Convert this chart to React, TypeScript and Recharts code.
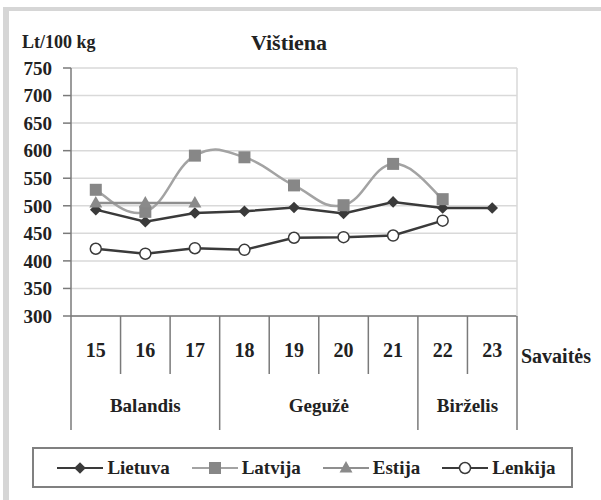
import React from 'react';
import { LineChart, Line, XAxis, YAxis, CartesianGrid, Legend } from 'recharts';

const weeks = ['15', '16', '17', '18', '19', '20', '21', '22', '23'];
const lietuva = [493, 471, 487, 490, 497, 486, 507, 496, 496];
const latvija = [529, 489, 591, 588, 537, 501, 576, 512, null];
const estija = [505, 505, 505, null, null, null, null, null, null];
const lenkija = [422, 413, 423, 420, 442, 443, 446, 473, null];
const months = ['Balandis', 'Gegužė', 'Birželis'];
const monthSpans = [3, 4, 2];
const yTicks = [300, 350, 400, 450, 500, 550, 600, 650, 700, 750];
const seriesNames = ['Lietuva', 'Latvija', 'Estija', 'Lenkija'];

const data = weeks.map((w, i) => ({
  week: w,
  Lietuva: lietuva[i],
  Latvija: latvija[i],
  Estija: estija[i],
  Lenkija: lenkija[i],
}));

const W = 601;
const H = 500;
const M_TOP = 68;
const Y_W = 71;
const M_RIGHT = 83;
const X_H = 184;
const PLOT_W = W - Y_W - M_RIGHT - 1;
const BW = PLOT_W / weeks.length;
const AXIS_Y = H - X_H;
const FONT = '"Liberation Serif", "DejaVu Serif", serif';
const TXT = '#222';
const SEP = '#7a7a7a';
const SMOOTH = 0.21;

// Excel-like smoothing (cardinal spline as cubic Bezier)
function excelSmooth(context: any) {
  let pts: number[][] = [];
  return {
    areaStart() {},
    areaEnd() {},
    lineStart() { pts = []; },
    point(x: number, y: number) { pts.push([+x, +y]); },
    lineEnd() {
      const n = pts.length;
      if (!n) return;
      context.moveTo(pts[0][0], pts[0][1]);
      for (let i = 0; i < n - 1; i++) {
        const p0 = pts[Math.max(i - 1, 0)];
        const p1 = pts[i];
        const p2 = pts[i + 1];
        const p3 = pts[Math.min(i + 2, n - 1)];
        const a = i === 0 ? 1 / 6 : SMOOTH;
        const b = i + 2 > n - 1 ? 1 / 6 : SMOOTH;
        context.bezierCurveTo(
          p1[0] + (p2[0] - p0[0]) * a, p1[1] + (p2[1] - p0[1]) * a,
          p2[0] - (p3[0] - p1[0]) * b, p2[1] - (p3[1] - p1[1]) * b,
          p2[0], p2[1]
        );
      }
    },
  };
}

const monthStart: Record<number, number> = {};
{
  let s = 0;
  monthSpans.forEach((n, m) => { monthStart[s] = m; s += n; });
}

const XTick = (props: any) => {
  const { x, index, payload } = props;
  const left = x - BW / 2;
  const isMonth = monthStart[index] !== undefined;
  const last = index === weeks.length - 1;
  return (
    <g>
      <line x1={left} x2={left} y1={AXIS_Y} y2={isMonth ? 430 : 374} stroke={SEP} strokeWidth={1.5} />
      {last && <line x1={left + BW} x2={left + BW} y1={AXIS_Y} y2={430} stroke={SEP} strokeWidth={1.5} />}
      <text x={x} y={357} textAnchor="middle" fontFamily={FONT} fontWeight="bold" fontSize={20} fill={TXT}>
        {payload.value}
      </text>
      {isMonth && (
        <text x={left + (monthSpans[monthStart[index]] * BW) / 2} y={412} textAnchor="middle" fontFamily={FONT} fontWeight="bold" fontSize={19} fill={TXT}>
          {months[monthStart[index]]}
        </text>
      )}
      {last && (
        <text x={left + BW + 4} y={363} textAnchor="start" fontFamily={FONT} fontWeight="bold" fontSize={20} fill={TXT}>
          Savaitės
        </text>
      )}
    </g>
  );
};

const Diamond = (props: any) => {
  const { cx, cy } = props;
  if (cx == null || cy == null) return null;
  const r = 5.8;
  return <path d={`M${cx},${cy - r}L${cx + r},${cy}L${cx},${cy + r}L${cx - r},${cy}Z`} fill="#3a3a3a" />;
};
const Square = (props: any) => {
  const { cx, cy } = props;
  if (cx == null || cy == null) return null;
  return <rect x={cx - 6} y={cy - 6} width={12} height={12} fill="#878787" />;
};
const Triangle = (props: any) => {
  const { cx, cy } = props;
  if (cx == null || cy == null) return null;
  return <path d={`M${cx},${cy - 7}L${cx + 6.5},${cy + 4.5}L${cx - 6.5},${cy + 4.5}Z`} fill="#8a8a8a" />;
};
const Circle = (props: any) => {
  const { cx, cy } = props;
  if (cx == null || cy == null) return null;
  return <circle cx={cx} cy={cy} r={5.5} fill="#fff" stroke="#3a3a3a" strokeWidth={1.5} />;
};

const styles: Record<string, { line: string; marker: (p: any) => any }> = {
  Lietuva: { line: '#3a3a3a', marker: Diamond },
  Latvija: { line: '#a3a3a3', marker: Square },
  Estija: { line: '#8f8f8f', marker: Triangle },
  Lenkija: { line: '#3a3a3a', marker: Circle },
};

const LegendContent = () => (
  <div
    style={{
      boxSizing: 'border-box',
      width: '100%',
      height: 41,
      border: '2px solid #808080',
      display: 'flex',
      alignItems: 'center',
      justifyContent: 'center',
      paddingLeft: 8,
      gap: 22,
    }}
  >
    {seriesNames.map((n) => {
      const M = styles[n].marker;
      return (
        <div key={n} style={{ display: 'flex', alignItems: 'center' }}>
          <svg width={46} height={16}>
            <line x1={0} x2={46} y1={8} y2={8} stroke={styles[n].line} strokeWidth={2} />
            <M cx={23} cy={8} />
          </svg>
          <span style={{ fontFamily: FONT, fontWeight: 'bold', fontSize: 19, color: TXT, marginLeft: 4, lineHeight: '20px' }}>{n}</span>
        </div>
      );
    })}
  </div>
);

export default function App() {
  return (
    <div style={{ position: 'absolute', left: 0, top: 0, width: W, height: H, background: '#fff', overflow: 'hidden' }}>
      <div style={{ position: 'absolute', left: 3, top: 7, width: W, height: H, borderLeft: '6px solid #d6d6d6', borderTop: '4px solid #d6d6d6', boxSizing: 'border-box' }} />
      <div style={{ position: 'absolute', left: 22, top: 31, fontFamily: FONT, fontWeight: 'bold', fontSize: 18, color: TXT, lineHeight: '22px', whiteSpace: 'nowrap' }}>
        Lt/100 kg
      </div>
      <div style={{ position: 'absolute', left: 189, width: 200, top: 30, textAlign: 'center', fontFamily: FONT, fontWeight: 'bold', fontSize: 22, color: TXT, lineHeight: '26px' }}>
        Vištiena
      </div>
      <div style={{ position: 'absolute', left: 0, top: 0 }}>
        <LineChart width={W} height={H} data={data} margin={{ top: M_TOP, right: M_RIGHT, bottom: 0, left: 0 }}>
          <CartesianGrid yAxisId="left" horizontal vertical={false} stroke="#d9d9d9" strokeWidth={1.5} />
          <XAxis
            dataKey="week"
            scale="band"
            height={X_H}
            interval={0}
            tickLine={false}
            axisLine={{ stroke: SEP, strokeWidth: 1.5 }}
            tick={<XTick />}
          />
          <YAxis
            yAxisId="left"
            width={Y_W}
            domain={[300, 750]}
            ticks={yTicks}
            interval={0}
            tickSize={8}
            tickMargin={11}
            axisLine={{ stroke: SEP, strokeWidth: 1.5 }}
            tickLine={{ stroke: SEP, strokeWidth: 1.5 }}
            tick={{ fontFamily: FONT, fontWeight: 'bold', fontSize: 19, fill: TXT }}
          />
          <YAxis
            yAxisId="right"
            orientation="right"
            width={1}
            domain={[300, 750]}
            tick={false}
            tickLine={false}
            axisLine={{ stroke: '#d9d9d9', strokeWidth: 1.5 }}
          />
          <Line yAxisId="left" dataKey="Lietuva" stroke={styles.Lietuva.line} strokeWidth={2.5} type="linear" dot={<Diamond />} activeDot={false} isAnimationActive={false} />
          <Line yAxisId="left" dataKey="Latvija" stroke={styles.Latvija.line} strokeWidth={2.5} type={excelSmooth as any} dot={<Square />} activeDot={false} isAnimationActive={false} />
          <Line yAxisId="left" dataKey="Estija" stroke={styles.Estija.line} strokeWidth={2.5} type="linear" dot={<Triangle />} activeDot={false} isAnimationActive={false} />
          <Line yAxisId="left" dataKey="Lenkija" stroke={styles.Lenkija.line} strokeWidth={2.5} type="linear" dot={<Circle />} activeDot={false} isAnimationActive={false} />
          <Legend
            layout="horizontal"
            verticalAlign="middle"
            align="center"
            content={<LegendContent />}
            wrapperStyle={{ position: 'absolute', left: 32, top: 447, width: 541, height: 41 }}
          />
        </LineChart>
      </div>
    </div>
  );
}
